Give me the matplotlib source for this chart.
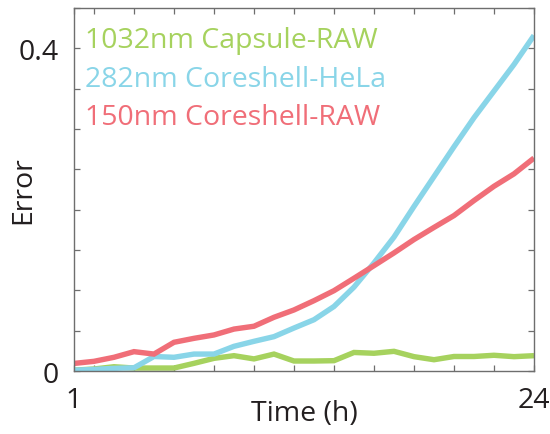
import matplotlib
matplotlib.use("Agg")
import matplotlib.pyplot as plt
import numpy as np

# Time points (hours)
hours = list(range(1, 25))

capsule_raw_1032 = [0.001, 0.0025, 0.0053, 0.0037, 0.0037, 0.0037, 0.0095, 0.0157,
                    0.019, 0.015, 0.021, 0.0124, 0.0124, 0.0128, 0.023, 0.022,
                    0.0244, 0.0178, 0.014, 0.018, 0.018, 0.0195, 0.0178, 0.019]
coreshell_hela_282 = [0.001, 0.002, 0.0033, 0.004, 0.018, 0.017, 0.021, 0.021,
                      0.0306, 0.0368, 0.0426, 0.0533, 0.0636, 0.080, 0.104, 0.134,
                      0.166, 0.204, 0.241, 0.278, 0.314, 0.347, 0.380, 0.416]
coreshell_raw_150 = [0.0094, 0.012, 0.017, 0.024, 0.021, 0.0356, 0.0405, 0.0447,
                     0.052, 0.0555, 0.0666, 0.0757, 0.0872, 0.0996, 0.115, 0.1306,
                     0.1464, 0.163, 0.178, 0.1927, 0.2113, 0.229, 0.2444, 0.264]

series_labels = ["1032nm Capsule-RAW", "282nm Coreshell-HeLa", "150nm Coreshell-RAW"]
series_colors = ["#a6d25e", "#89d5e8", "#f06e78"]

y_ticks = [0, 0.05, 0.1, 0.15, 0.2, 0.25, 0.3, 0.35, 0.4, 0.45]
y_tick_labels = ["0", "", "", "", "", "", "", "", "0.4", ""]
x_ticks = [1, 2, 4, 6, 8, 10, 12, 14, 16, 18, 20, 22, 24]
x_tick_labels = ["1", "", "", "", "", "", "", "", "", "", "", "", "24"]

plt.rcParams["font.family"] = ["Open Sans", "DejaVu Sans"]
text_color = "#231f20"

fig = plt.figure(figsize=(5.5, 4.35), dpi=100)
ax = fig.add_axes([0.1345, 0.1448, 0.8364, 0.8345])

for vals, col in zip([capsule_raw_1032, coreshell_hela_282, coreshell_raw_150], series_colors):
    ax.plot(hours, vals, color=col, lw=3.9, solid_joinstyle="miter", solid_capstyle="butt")

ax.set_xlim(1, 24)
ax.set_ylim(0, 0.45)
ax.set_yticks(y_ticks)
ax.set_yticklabels(y_tick_labels)
ax.set_xticks(x_ticks)
ax.set_xticklabels(x_tick_labels)

for s in ax.spines.values():
    s.set_color("#6e6e6e")
    s.set_linewidth(1.0)

ax.tick_params(direction="in", length=4, width=0.9, color="#6e6e6e",
               top=True, right=True, labelsize=20.5, labelcolor=text_color)
ax.tick_params(axis="y", pad=11)
ax.tick_params(axis="x", pad=11)

ax.set_xlabel("Time (h)", fontsize=20.5, color=text_color, va="center")
ax.xaxis.set_label_coords(0.5, -0.115)
ax.set_ylabel("Error", fontsize=20.5, color=text_color, va="center")
ax.yaxis.set_label_coords(-0.111, 0.5)

baselines = [0.8926, 0.786, 0.680]
for lab, col, yb in zip(series_labels, series_colors, baselines):
    ax.text(0.024, yb, lab, transform=ax.transAxes, color=col,
            fontsize=20.5, va="baseline", ha="left")

fig.savefig("out.png", dpi=100)
